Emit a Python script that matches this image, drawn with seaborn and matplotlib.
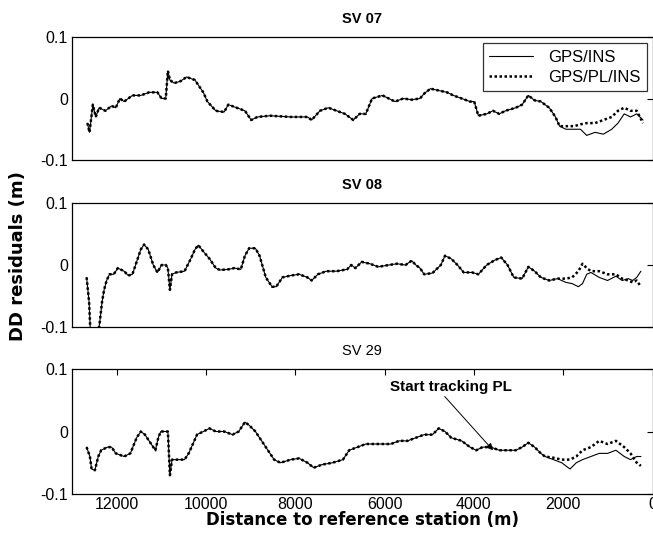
import numpy as np
import pandas as pd
import matplotlib
matplotlib.use("Agg")
import matplotlib.pyplot as plt
import seaborn as sns

# ── Data (distance in m, DD residuals in m) ─────────────────────────────────

LABELS = ["GPS/INS", "GPS/PL/INS"]

# SV 07 — shared part (both solutions coincide)
sv07_dist = [12655, 12608, 12533, 12468, 12393, 12253, 12113, 12020, 11927, 11833,
             11647, 11460, 11273, 11087, 10993, 10900, 10853, 10807, 10713, 10573,
             10433, 10247, 10060, 9967, 9780, 9593, 9500, 9313, 9127, 8987,
             8847, 8567, 8100, 7727, 7633, 7447, 7260, 7073, 6887, 6700,
             6560, 6420, 6280, 6047, 5907, 5767, 5580, 5393, 5207, 5113,
             4973, 4787, 4600, 4460, 4273, 4087, 3993, 3900, 3713, 3573,
             3433, 3293, 3060, 2920, 2780, 2640, 2500, 2313, 2173, 2080]
sv07_res = [-0.040, -0.055, -0.010, -0.030, -0.015, -0.020, -0.012, -0.015, 0.000, -0.005,
            0.005, 0.005, 0.010, 0.010, 0.000, 0.000, 0.045, 0.030, 0.025, 0.028,
            0.035, 0.030, 0.010, -0.005, -0.020, -0.022, -0.010, -0.015, -0.020, -0.035,
            -0.030, -0.028, -0.030, -0.030, -0.035, -0.020, -0.015, -0.020, -0.025, -0.035,
            -0.025, -0.025, 0.000, 0.005, 0.000, -0.005, 0.000, -0.002, 0.000, 0.008,
            0.016, 0.013, 0.010, 0.005, 0.000, -0.005, -0.005, -0.028, -0.025, -0.020,
            -0.025, -0.020, -0.015, -0.010, 0.005, -0.003, -0.005, -0.015, -0.030, -0.045]
sv07_tail_dist = [1940, 1753, 1613, 1474, 1287, 1100, 913, 773, 633, 493, 353, 213]
sv07_tail_ins = [-0.050, -0.050, -0.050, -0.060, -0.055, -0.058, -0.050, -0.040, -0.025, -0.030, -0.025, -0.035]
sv07_tail_pl = [-0.045, -0.045, -0.042, -0.040, -0.040, -0.035, -0.030, -0.020, -0.015, -0.020, -0.020, -0.040]

# SV 08
sv08_dist = [12673, 12617, 12580, 12431, 12375, 12328, 12281, 12225, 12160, 12067,
             11973, 11833, 11740, 11647, 11553, 11460, 11385, 11292, 11180, 11087,
             10993, 10900, 10853, 10807, 10760, 10667, 10480, 10340, 10247, 10172,
             10060, 9920, 9780, 9687, 9500, 9360, 9220, 9127, 9033, 8893,
             8800, 8660, 8520, 8427, 8287, 8100, 7913, 7727, 7633, 7493,
             7307, 7073, 6840, 6747, 6653, 6513, 6327, 6140, 5907, 5720,
             5533, 5393, 5300, 5207, 5113, 4927, 4740, 4647, 4507, 4367,
             4227, 4040, 3900, 3713, 3527, 3387, 3247, 3107, 2920, 2780,
             2640, 2500, 2313, 2127]
sv08_res = [-0.020, -0.060, -0.120, -0.120, -0.090, -0.060, -0.040, -0.025, -0.015, -0.015,
            -0.005, -0.010, -0.017, -0.015, 0.005, 0.025, 0.033, 0.025, 0.000, -0.012,
            0.000, 0.000, -0.005, -0.040, -0.015, -0.012, -0.010, 0.010, 0.025, 0.032,
            0.022, 0.010, -0.005, -0.008, -0.007, -0.005, -0.007, 0.015, 0.027, 0.027,
            0.015, -0.020, -0.035, -0.035, -0.020, -0.017, -0.015, -0.020, -0.025, -0.015,
            -0.010, -0.010, -0.007, 0.000, -0.005, 0.005, 0.002, -0.003, 0.000, 0.002,
            0.000, 0.007, 0.000, -0.005, -0.015, -0.013, 0.000, 0.015, 0.010, 0.000,
            -0.012, -0.012, -0.015, 0.000, 0.008, 0.012, 0.000, -0.020, -0.022, -0.003,
            -0.010, -0.020, -0.025, -0.022]
sv08_tail_dist = [1940, 1800, 1660, 1567, 1474, 1380, 1193, 1007, 820, 680, 540, 447, 353, 260]
sv08_tail_ins = [-0.028, -0.030, -0.035, -0.030, -0.015, -0.012, -0.020, -0.025, -0.018, -0.025, -0.022, -0.025, -0.020, -0.010]
sv08_tail_pl = [-0.022, -0.020, -0.010, 0.002, -0.005, -0.010, -0.010, -0.015, -0.015, -0.022, -0.025, -0.028, -0.025, -0.035]

# SV 29
sv29_dist = [12673, 12599, 12561, 12487, 12412, 12347, 12207, 12113, 12020, 11833,
             11693, 11553, 11460, 11367, 11227, 11133, 11068, 11012, 10900, 10853,
             10807, 10760, 10620, 10480, 10387, 10293, 10200, 10060, 9920, 9780,
             9593, 9407, 9267, 9127, 9033, 8893, 8753, 8613, 8473, 8333,
             8100, 7913, 7727, 7587, 7400, 7167, 6933, 6793, 6607, 6420,
             6233, 6047, 5860, 5673, 5487, 5300, 5113, 4927, 4787, 4647,
             4507, 4273, 4087, 3947, 3807, 3620, 3433, 3247, 3060, 2920,
             2780, 2640, 2500, 2407]
sv29_res = [-0.025, -0.040, -0.060, -0.062, -0.040, -0.030, -0.025, -0.025, -0.035, -0.040,
            -0.035, -0.010, 0.000, -0.005, -0.020, -0.030, -0.010, 0.000, 0.000, 0.000,
            -0.070, -0.045, -0.045, -0.045, -0.035, -0.020, -0.005, 0.000, 0.005, 0.000,
            0.000, -0.005, 0.000, 0.015, 0.010, 0.000, -0.015, -0.030, -0.045, -0.050,
            -0.045, -0.043, -0.050, -0.058, -0.053, -0.050, -0.045, -0.030, -0.025, -0.020,
            -0.020, -0.020, -0.020, -0.015, -0.015, -0.010, -0.005, -0.005, 0.005, 0.000,
            -0.010, -0.015, -0.025, -0.030, -0.025, -0.025, -0.030, -0.030, -0.030, -0.025,
            -0.018, -0.025, -0.035, -0.040]
sv29_tail_dist = [2220, 2033, 1847, 1707, 1567, 1380, 1193, 1007, 820, 633, 493, 353, 260]
sv29_tail_ins = [-0.045, -0.050, -0.060, -0.050, -0.045, -0.040, -0.035, -0.035, -0.030, -0.040, -0.045, -0.040, -0.040]
sv29_tail_pl = [-0.042, -0.045, -0.045, -0.040, -0.030, -0.025, -0.015, -0.020, -0.015, -0.025, -0.035, -0.050, -0.055]

X_TICKS = [12000, 10000, 8000, 6000, 4000, 2000, 0]
Y_TICKS = [-0.1, 0, 0.1]
Y_TICKLABELS = ["-0.1", "0", "0.1"]

# annotation: text position, arrow tail and arrow tip (distance, residual)
NOTE_TEXT = "Start tracking PL"
NOTE_XY = (4507, 0.072)
ARROW_FROM = (4653, 0.056)
ARROW_TO = (3571, -0.030)

# ── Helpers ─────────────────────────────────────────────────────────────────

def build_frame(dist, res, tail_dist, tail_ins, tail_pl):
    rows = []
    for lab, tail in zip(LABELS, [tail_ins, tail_pl]):
        d = list(dist) + list(tail_dist)
        r = list(res) + list(tail)
        rows.append(pd.DataFrame({"dist": d, "res": r, "method": lab}))
    return pd.concat(rows, ignore_index=True)


def draw_panel(ax, df):
    sns.lineplot(data=df[df.method == LABELS[0]], x="dist", y="res", ax=ax,
                 color="black", lw=0.8, sort=False, estimator=None, label=LABELS[0])
    sns.lineplot(data=df[df.method == LABELS[1]], x="dist", y="res", ax=ax,
                 color="black", lw=1.8, sort=False, estimator=None, label=LABELS[1],
                 linestyle=(0, (1, 1)))
    ax.set_xlim(13000, 0)
    ax.set_ylim(-0.1, 0.1)
    ax.set_yticks(Y_TICKS)
    ax.set_yticklabels(Y_TICKLABELS)
    ax.set_xlabel("")
    ax.set_ylabel("")
    ax.tick_params(direction="in", length=4, width=0.8, top=True, right=True,
                   labelsize=11.5, colors="black", pad=3)
    for s in ax.spines.values():
        s.set_visible(True)
        s.set_color("black")
        s.set_linewidth(0.9)


# ── Figure ──────────────────────────────────────────────────────────────────

sns.set_style("white")
plt.rcParams["font.family"] = ["Liberation Sans", "DejaVu Sans"]
plt.rcParams["axes.unicode_minus"] = False
plt.rcParams["text.color"] = "black"
plt.rcParams["axes.labelcolor"] = "black"

W, H = 653, 546
fig = plt.figure(figsize=(W / 100, H / 100), dpi=100)

left = 72 / W
width = (652.5 - 72) / W
panels = [
    (37, 160, build_frame(sv07_dist, sv07_res, sv07_tail_dist, sv07_tail_ins, sv07_tail_pl), "SV 07", "bold"),
    (203, 327, build_frame(sv08_dist, sv08_res, sv08_tail_dist, sv08_tail_ins, sv08_tail_pl), "SV 08", "bold"),
    (369, 494, build_frame(sv29_dist, sv29_res, sv29_tail_dist, sv29_tail_ins, sv29_tail_pl), "SV 29", "normal"),
]

axes = []
for top, bot, df, title, weight in panels:
    ax = fig.add_axes([left, 1 - bot / H, width, (bot - top) / H])
    draw_panel(ax, df)
    ax.set_title(title, fontsize=10.5, fontweight=weight, pad=10, color="black")
    axes.append(ax)

for ax in axes[:2]:
    ax.set_xticks([])
axes[2].set_xticks(X_TICKS)
axes[2].set_xticklabels([str(t) for t in X_TICKS])
axes[2].tick_params(axis="x", pad=2.5)

# legend only in the first panel
for ax in axes[1:]:
    leg = ax.get_legend()
    if leg is not None:
        leg.remove()
leg = axes[0].legend(loc="upper right", bbox_to_anchor=(0.99, 0.951), borderaxespad=0,
                     fontsize=12, frameon=True, fancybox=False, handlelength=2.6,
                     borderpad=0.4, labelspacing=0.3, handletextpad=0.9)
leg.get_frame().set_edgecolor("black")
leg.get_frame().set_linewidth(0.9)
for t in leg.get_texts():
    t.set_color("black")

axes[2].text(*NOTE_XY, NOTE_TEXT, ha="center", va="center",
             fontsize=11, fontweight="bold", color="black")
axes[2].annotate("", xy=ARROW_TO, xytext=ARROW_FROM,
                 arrowprops=dict(arrowstyle="-|>", color="black", lw=0.7,
                                 shrinkA=0, shrinkB=0, mutation_scale=10))

fig.text(362 / W, 1 - 520 / H, "Distance to reference station (m)", ha="center", va="center",
         fontsize=12, fontweight="bold", family="DejaVu Sans", color="black")
fig.text(18 / W, 1 - 256 / H, "DD residuals (m)", ha="center", va="center", rotation=90,
         fontsize=13, fontweight="bold", family="DejaVu Sans", color="black")

fig.savefig("out.png", dpi=100)
